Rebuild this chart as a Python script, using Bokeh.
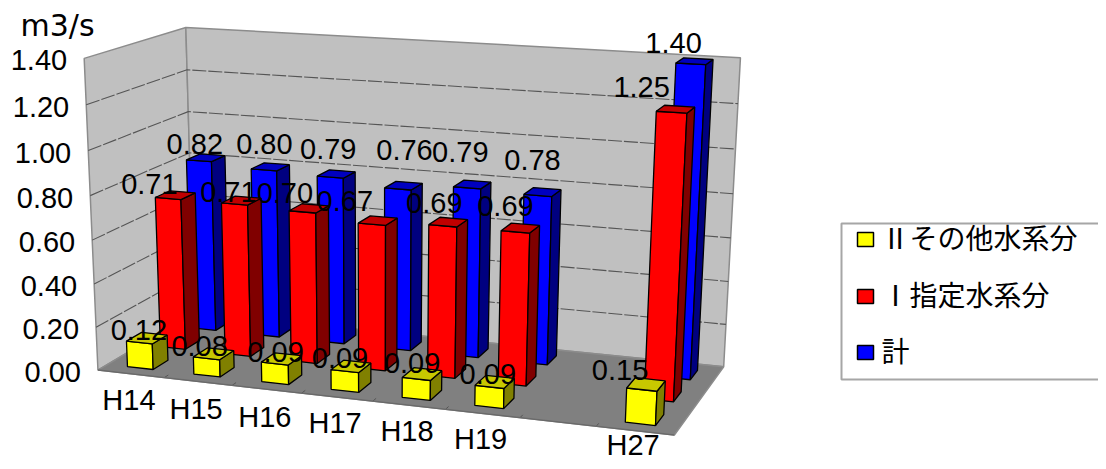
import numpy as np
from bokeh.embed import file_html
from bokeh.resources import INLINE
from bokeh.plotting import figure
from bokeh.models import Range1d
from bokeh.core.properties import value

categories = ["H14", "H15", "H16", "H17", "H18", "H19", "", "H27"]
series_names = ["Ⅱその他水系分", "Ⅰ指定水系分", "計"]
other = [0.12, 0.08, 0.09, 0.09, 0.09, 0.09, None, 0.15]
designated = [0.71, 0.71, 0.70, 0.67, 0.69, 0.69, None, 1.25]
total = [0.82, 0.80, 0.79, 0.76, 0.79, 0.78, None, 1.40]
y_ticks = [0.0, 0.2, 0.4, 0.6, 0.8, 1.0, 1.2, 1.4]
y_max = 1.4

W, H = 1098, 461
NUM = "Liberation Sans"
CJK = "Noto Sans CJK JP"

# camera calibration: box corners (u across, d into the page, v up) -> page pixels
world = [(0, 0, 0), (1, 0, 0), (1, 1, 0), (0, 1, 0), (0, 0, 1), (0, 1, 1), (1, 1, 1)]
screen = [(97, 370), (674, 434), (723, 367), (194, 312), (84, 58), (185, 27), (740, 57)]
A = []
b = []
for (u, d, v), (sx, sy) in zip(world, screen):
    A.append([u, d, v, 1, 0, 0, 0, 0, -sx * u, -sx * d, -sx * v])
    b.append(sx)
    A.append([0, 0, 0, 0, u, d, v, 1, -sy * u, -sy * d, -sy * v])
    b.append(sy)
m = np.linalg.lstsq(np.array(A, float), np.array(b, float), rcond=None)[0]
P = np.append(m, 1.0).reshape(3, 4)


def proj(cat, dep, val):
    """cat in category slots, dep in series slots, val in data units."""
    q = P @ np.array([cat / len(categories), dep / 3.0, val / y_max, 1.0])
    return q[0] / q[2], q[1] / q[2]


def poly(points):
    pts = [proj(*c) for c in points]
    return [c[0] for c in pts], [c[1] for c in pts]


p = figure(width=W, height=H, output_backend="svg", toolbar_location=None,
           x_range=Range1d(0, W), y_range=Range1d(H, 0),
           x_axis_type=None, y_axis_type=None, min_border=0,
           outline_line_color=None, background_fill_color="white")
p.grid.visible = False

n = len(categories)
WALL, FLOOR, EDGE = "#C0C0C0", "#808080", "#8C8C8C"
walls = [
    ([(0, 0, 0), (0, 3, 0), (0, 3, y_max), (0, 0, y_max)], WALL),
    ([(0, 3, 0), (n, 3, 0), (n, 3, y_max), (0, 3, y_max)], WALL),
    ([(0, 0, 0), (n, 0, 0), (n, 3, 0), (0, 3, 0)], FLOOR),
]
for pts, col in walls:
    xs, ys = poly(pts)
    p.patch(xs, ys, fill_color=col, line_color=EDGE, line_width=1.5)

# gridlines on both walls
for t in y_ticks[1:-1]:
    xs, ys = poly([(0, 0, t), (0, 3, t), (n, 3, t)])
    p.line(xs, ys, line_color="#555555", line_width=1.1, line_dash="14 2")

# floor ticks on the front edge
for i in range(1, n):
    xs, ys = poly([(i, 0, 0), (i, 0.12, 0)])
    p.line(xs, ys, line_color="#555555", line_width=1)
xs, ys = poly([(0, 0, 0), (n, 0, 0)])
p.line(xs, ys, line_color="#6A6A6A", line_width=1.5)

# bars
BW, BD = 0.39, 0.45
styles = [
    (other, "#FFFF00", "#808000", "#C8C800"),
    (designated, "#FF0000", "#800000", "#C00000"),
    (total, "#0000FF", "#000080", "#0000C0"),
]
for k in (2, 1, 0):
    vals, front, side, top = styles[k]
    fxs, fys, fcs = [], [], []
    for i, v in enumerate(vals):
        if v is None:
            continue
        c0, c1 = i + 0.5 - BW / 2, i + 0.5 + BW / 2
        d0, d1 = k + 0.5 - BD / 2, k + 0.5 + BD / 2
        for pts, col in (
            ([(c0, d0, 0), (c1, d0, 0), (c1, d0, v), (c0, d0, v)], front),
            ([(c1, d0, 0), (c1, d1, 0), (c1, d1, v), (c1, d0, v)], side),
            ([(c0, d0, v), (c1, d0, v), (c1, d1, v), (c0, d1, v)], top),
        ):
            xs, ys = poly(pts)
            fxs.append(xs)
            fys.append(ys)
            fcs.append(col)
    p.patches(fxs, fys, fill_color=fcs, line_color="black", line_width=1.3)

# y tick labels
for t in y_ticks:
    x, y = proj(0, 0, t)
    p.text([x - 17], [y + 2], text=[f"{t:.2f}"], text_font=value(NUM), text_font_size="29px",
           text_align="right", text_baseline="middle", text_color="black")

# category labels (the last one is lifted so that it stays inside the page)
cat_dy = [26, 28, 28, 26, 26, 26, 26, 14]
for i, c in enumerate(categories):
    if not c:
        continue
    x, y = proj(i + 0.5, 0, 0)
    p.text([x - 2], [y + cat_dy[i]], text=[c], text_font=value(NUM), text_font_size="29px",
           text_align="center", text_baseline="middle", text_color="black")

# data labels: each label's placement relative to its bar top
base = [(-8, -8), (-26, -15), (-11, -15)]
nudge_x = [[0, -6, 2, -3, -2, 1, 0, -18], [0, 13, 2, -7, 12, 11, 0, -8], [0, 5, 3, 12, -1, 1, 0, -10]]
nudge_y = [[0, 0, 1, 0, -3, 0, 0, -6], [4, 6, 0, -5, -4, -7, 0, -7], [1, -8, -10, -21, -17, -17, 0, -3]]
for k in (2, 1, 0):
    vals = styles[k][0]
    for i, v in enumerate(vals):
        if v is None:
            continue
        x, y = proj(i + 0.5, k + 0.5, v)
        p.text([x + base[k][0] + nudge_x[k][i]], [y + base[k][1] + nudge_y[k][i]], text=[f"{v:.2f}"],
               text_font=value(NUM), text_font_size="29px", text_align="center",
               text_baseline="middle", text_color="black")

p.text([20], [25], text=["m3/s"], text_font=value("DejaVu Sans"), text_font_size="30px",
       text_align="left", text_baseline="middle", text_color="black")

# legend
p.quad(left=[841], right=[1120], top=[223], bottom=[379], fill_color="white",
       line_color="#A6A6A6", line_width=2)
for name, (_, front, _, _), ly in zip(series_names, styles, [239, 296, 352]):
    p.rect([865], [ly], width=16, height=14, fill_color=front, line_color="black", line_width=1.5)
    p.text([881], [ly - 3], text=[name], text_font=value(CJK), text_font_size="28px",
           text_align="left", text_baseline="middle", text_color="black")

open("out.html", "w").write(file_html(p, INLINE))
